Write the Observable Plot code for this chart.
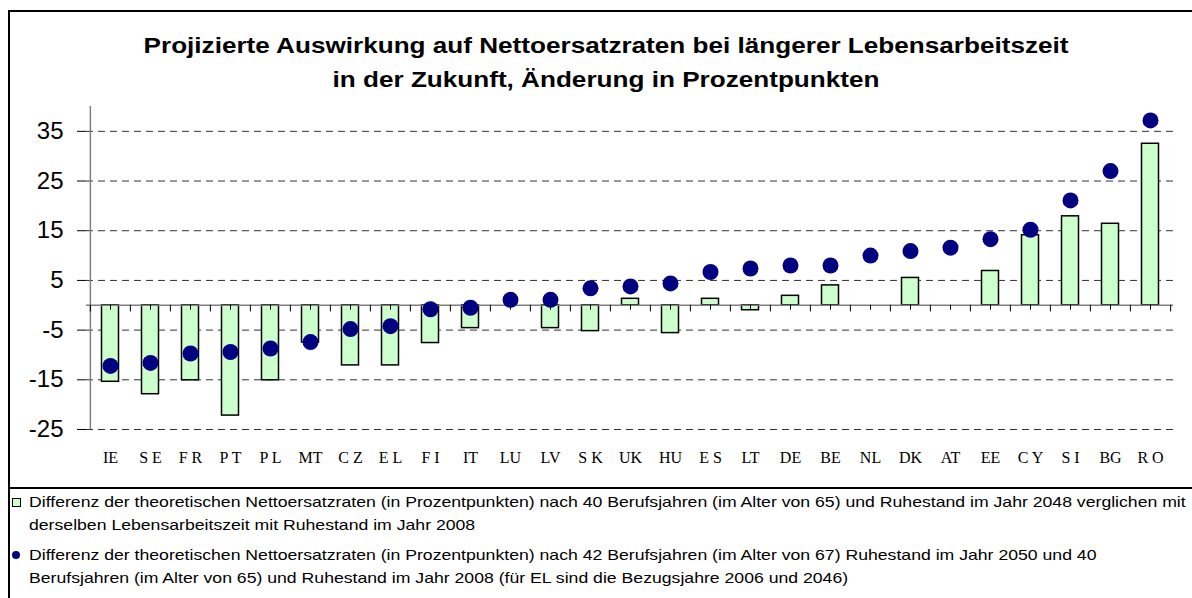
<!DOCTYPE html>
<html><head><meta charset="utf-8">
<script src="https://cdn.jsdelivr.net/npm/d3@7"></script>
<script src="https://cdn.jsdelivr.net/npm/@observablehq/plot@0.6"></script>
<style>
html,body{margin:0;padding:0;width:1192px;height:598px;overflow:hidden;background:#fff;font-family:"Liberation Sans",Arial,sans-serif;}
#frame{position:absolute;left:8px;top:10px;width:1400px;height:800px;border:2px solid #000;box-sizing:border-box;}
#title{position:absolute;left:0;top:29px;width:1212px;text-align:center;font-weight:bold;font-size:22px;line-height:34px;color:#000;transform:scaleX(1.187);transform-origin:50% 50%;}
#chart{position:absolute;left:0;top:0;}
#sep{position:absolute;left:8px;top:487px;width:1400px;height:0;border-top:2px solid #000;}
.leg{position:absolute;left:29px;font-size:15px;line-height:23px;white-space:nowrap;color:#000;transform:scaleX(1.176);transform-origin:0 50%;}
.sq{position:absolute;left:12px;top:498px;width:7px;height:7px;background:#CCFFCC;border:1px solid #000;}
.ci{position:absolute;left:12px;top:551px;width:8px;height:8px;border-radius:50%;background:#000080;}
</style>
</head><body>
<div id="frame"></div>
<div id="title">Projizierte Auswirkung auf Nettoersatzraten bei längerer Lebensarbeitszeit<br>in der Zukunft, Änderung in Prozentpunkten</div>
<div id="chart"></div>
<div id="sep"></div>
<div class="sq"></div>
<div class="leg" style="top:490px">Differenz der theoretischen Nettoersatzraten (in Prozentpunkten) nach 40 Berufsjahren (im Alter von 65) und Ruhestand im Jahr 2048 verglichen mit<br>derselben Lebensarbeitszeit mit Ruhestand im Jahr 2008</div>
<div class="ci"></div>
<div class="leg" style="top:543px">Differenz der theoretischen Nettoersatzraten (in Prozentpunkten) nach 42 Berufsjahren (im Alter von 67) Ruhestand im Jahr 2050 und 40<br>Berufsjahren (im Alter von 65) und Ruhestand im Jahr 2008 (für EL sind die Bezugsjahre 2006 und 2046)</div>
<script>
const countries = ["IE","SE","FR","PT","PL","MT","CZ","EL","FI","IT","LU","LV","SK","UK","HU","ES","LT","DE","BE","NL","DK","AT","EE","CY","SI","BG","RO"];
const tickLabels = ["IE","S E","F R","P T","P L","MT","C Z","E L","F I","IT","LU","LV","S K","UK","HU","E S","LT","DE","BE","NL","DK","AT","EE","C Y","S I","BG","R O"];
// Bars: 40 years, retirement 2048 vs 2008
const barValues = [-15.4,-17.9,-15.1,-22.2,-15.1,-7.5,-12.1,-12.1,-7.6,-4.6,null,-4.6,-5.2,1.3,-5.6,1.3,-1.0,1.9,4.0,null,5.5,null,6.9,14.1,17.9,16.4,32.5];
// Dots: 42 years (age 67) retirement 2050 vs 40 years retirement 2008
const dotValues = [-12.2,-11.6,-9.7,-9.4,-8.7,-7.4,-4.8,-4.2,-0.8,-0.5,1.1,1.1,3.4,3.8,4.4,6.7,7.4,8.0,8.0,10.0,10.9,11.6,13.3,15.2,21.1,27.0,37.2];
const yTicks = [-25,-15,-5,5,15,25,35];
const yDomain = [-25,40];

const W = 1192, H = 475, ML = 86, MR = 19, MT = 106, MB = 46;
const step = (W - ML - MR) / countries.length;
const rows = countries.map((c, i) => ({country: c, label: tickLabels[i], bar: barValues[i], dot: dotValues[i]}));
const last = countries[countries.length - 1];

const chart = Plot.plot({
  width: W, height: H,
  marginLeft: ML, marginRight: MR, marginTop: MT, marginBottom: MB,
  style: {background: "transparent", fontFamily: "'Liberation Sans', Arial, sans-serif", fontSize: "24px", color: "#000", overflow: "visible"},
  x: {domain: countries, padding: 0, axis: null},
  y: {domain: yDomain, ticks: yTicks, tickSize: 9, tickPadding: 14, tickFormat: d => String(d), label: null},
  marks: [
    Plot.ruleY(yTicks, {stroke: "#333", strokeWidth: 1, strokeDasharray: "7,5"}),
    Plot.barY(rows.filter(d => d.bar != null), {x: "country", y: "bar", fill: "#CCFFCC", stroke: "#000", strokeWidth: 1.5, insetLeft: 11.5, insetRight: 11.5}),
    Plot.ruleY([0], {stroke: "#808080", strokeWidth: 1.5}),
    Plot.ruleX([countries[0]], {y1: yDomain[0], y2: yDomain[1], dx: -step / 2, stroke: "#808080", strokeWidth: 1.5}),
    Plot.ruleX(countries, {x: d => d, y1: 0, y2: -1.35, dx: -step / 2, stroke: "#000", strokeWidth: 1}),
    Plot.ruleX([last], {x: d => d, y1: 0, y2: -1.35, dx: step / 2, stroke: "#000", strokeWidth: 1}),
    Plot.ruleX(countries, {x: d => d, y1: 0, y2: -1, stroke: "#000", strokeWidth: 1}),
    Plot.dot(rows, {x: "country", y: "dot", r: 8, fill: "#000080"}),
    Plot.text(rows, {x: "country", y: yDomain[0], text: "label", dy: 28, fontFamily: "'Liberation Serif', 'Times New Roman', serif", fontSize: 16, fill: "#000"})
  ]
});
document.getElementById("chart").appendChild(chart);
</script>
</body></html>
